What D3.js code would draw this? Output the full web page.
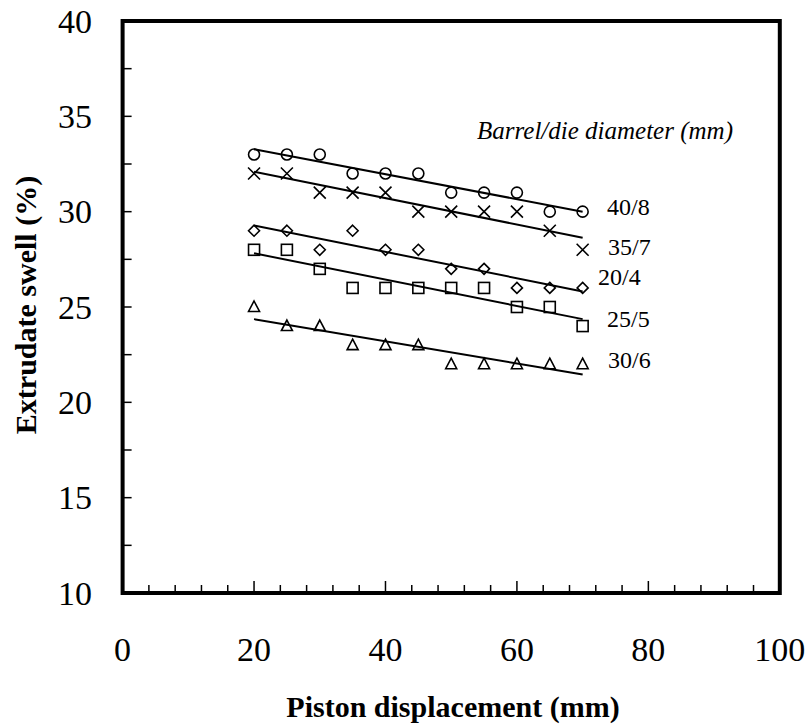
<!DOCTYPE html>
<html>
<head>
<meta charset="utf-8">
<script src="https://cdn.jsdelivr.net/npm/d3@7"></script>
<style>
  body { margin: 0; background: #fff; }
  text { font-family: "Liberation Serif", "Times New Roman", serif; fill: #000; }
</style>
</head>
<body>
<svg id="chart" width="810" height="726"></svg>
<script>
// Piston displacement (mm)
var displacement = [20, 25, 30, 35, 40, 45, 50, 55, 60, 65, 70];

// Extrudate swell (%) for each barrel/die diameter
var swell408 = [33, 33, 33, 32, 32, 32, 31, 31, 31, 30, 30];
var swell357 = [32, 32, 31, 31, 31, 30, 30, 30, 30, 29, 28];
var swell204 = [29, 29, 28, 29, 28, 28, 27, 27, 26, 26, 26];
var swell255 = [28, 28, 27, 26, 26, 26, 26, 26, 25, 25, 24];
var swell306 = [25, 24, 24, 23, 23, 23, 22, 22, 22, 22, 22];

var seriesNames = ['40/8', '35/7', '20/4', '25/5', '30/6'];
var xTickLabels = [0, 20, 40, 60, 80, 100];
var yTickLabels = [10, 15, 20, 25, 30, 35, 40];

var series = [
  { name: seriesNames[0], values: swell408, symbol: 'circle', labelX: 607, labelY: 215 },
  { name: seriesNames[1], values: swell357, symbol: 'cross', labelX: 608, labelY: 255 },
  { name: seriesNames[2], values: swell204, symbol: 'diamond', labelX: 598, labelY: 285 },
  { name: seriesNames[3], values: swell255, symbol: 'square', labelX: 607, labelY: 327 },
  { name: seriesNames[4], values: swell306, symbol: 'triangle', labelX: 608, labelY: 368 }
];

var svg = d3.select('#chart');

var x = d3.scaleLinear().domain([0, 100]).range([122.6, 779.8]);
var y = d3.scaleLinear().domain([10, 40]).range([593, 21]);

// Least squares fit for the trend lines
function fitLine(xs, ys) {
  var mx = d3.mean(xs), my = d3.mean(ys);
  var sxy = d3.sum(xs, (v, i) => (v - mx) * (ys[i] - my));
  var sxx = d3.sum(xs, v => (v - mx) * (v - mx));
  var slope = sxy / sxx;
  return function(v) { return my + slope * (v - mx); };
}

// minor ticks inside the frame
var xMinor = d3.range(4, 100, 4);
svg.selectAll('.xtick')
  .data(xMinor)
  .enter()
  .append('line')
  .attr('x1', d => x(d))
  .attr('x2', d => x(d))
  .attr('y1', y(10))
  .attr('y2', d => y(10) - (d % 20 === 0 ? 12 : 8))
  .attr('stroke', '#000')
  .attr('stroke-width', 1.5);

var yMinor = d3.range(12.5, 40, 2.5);
svg.selectAll('.ytick')
  .data(yMinor)
  .enter()
  .append('line')
  .attr('x1', x(0))
  .attr('x2', x(0) + 9)
  .attr('y1', d => y(d))
  .attr('y2', d => y(d))
  .attr('stroke', '#000')
  .attr('stroke-width', 1.5);

// frame
svg.append('rect')
  .attr('x', x(0))
  .attr('y', y(40))
  .attr('width', x(100) - x(0))
  .attr('height', y(10) - y(40))
  .attr('fill', 'none')
  .attr('stroke', '#000')
  .attr('stroke-width', 4);

// tick labels
svg.selectAll('.xlabel')
  .data(xTickLabels)
  .enter()
  .append('text')
  .attr('x', d => x(d))
  .attr('y', 661)
  .attr('text-anchor', 'middle')
  .style('font-size', '34px')
  .text(d => d);

svg.selectAll('.ylabel')
  .data(yTickLabels)
  .enter()
  .append('text')
  .attr('x', 92)
  .attr('y', d => y(d) + 11.5)
  .attr('text-anchor', 'end')
  .style('font-size', '34px')
  .text(d => d);

// axis titles
svg.append('text')
  .attr('x', 453)
  .attr('y', 717)
  .attr('text-anchor', 'middle')
  .style('font-size', '30px')
  .style('font-weight', 'bold')
  .text('Piston displacement (mm)');

svg.append('text')
  .attr('transform', 'translate(36,305) rotate(-90)')
  .attr('text-anchor', 'middle')
  .style('font-size', '30px')
  .style('font-weight', 'bold')
  .text('Extrudate swell (%)');

// legend title
svg.append('text')
  .attr('x', 477)
  .attr('y', 139)
  .style('font-size', '25px')
  .style('font-style', 'italic')
  .text('Barrel/die diameter (mm)');

// trend lines
series.forEach(function(s) {
  var f = fitLine(displacement, s.values);
  svg.append('line')
    .attr('x1', x(20))
    .attr('x2', x(70))
    .attr('y1', y(f(20)))
    .attr('y2', y(f(70)))
    .attr('stroke', '#000')
    .attr('stroke-width', 2);
});

// markers
function drawMarker(g, type, cx, cy) {
  if (type === 'circle') {
    g.append('circle').attr('cx', cx).attr('cy', cy).attr('r', 5.5);
  } else if (type === 'cross') {
    g.append('path').attr('d', 'M' + (cx - 6) + ',' + (cy - 6) + 'L' + (cx + 6) + ',' + (cy + 6) +
      'M' + (cx - 6) + ',' + (cy + 6) + 'L' + (cx + 6) + ',' + (cy - 6));
  } else if (type === 'diamond') {
    g.append('path').attr('d', 'M' + cx + ',' + (cy - 5.5) + 'L' + (cx + 5.5) + ',' + cy +
      'L' + cx + ',' + (cy + 5.5) + 'L' + (cx - 5.5) + ',' + cy + 'Z');
  } else if (type === 'square') {
    g.append('rect').attr('x', cx - 5.5).attr('y', cy - 5.5).attr('width', 11).attr('height', 11);
  } else if (type === 'triangle') {
    g.append('path').attr('d', 'M' + cx + ',' + (cy - 6) + 'L' + (cx + 5.5) + ',' + (cy + 4.5) +
      'L' + (cx - 5.5) + ',' + (cy + 4.5) + 'Z');
  }
}

series.forEach(function(s) {
  var g = svg.append('g')
    .attr('fill', 'none')
    .attr('stroke', '#000')
    .attr('stroke-width', 1.6);
  s.values.forEach(function(v, i) {
    drawMarker(g, s.symbol, x(displacement[i]), y(v));
  });

  svg.append('text')
    .attr('x', s.labelX)
    .attr('y', s.labelY)
    .style('font-size', '24px')
    .text(s.name);
});
</script>
</body>
</html>
